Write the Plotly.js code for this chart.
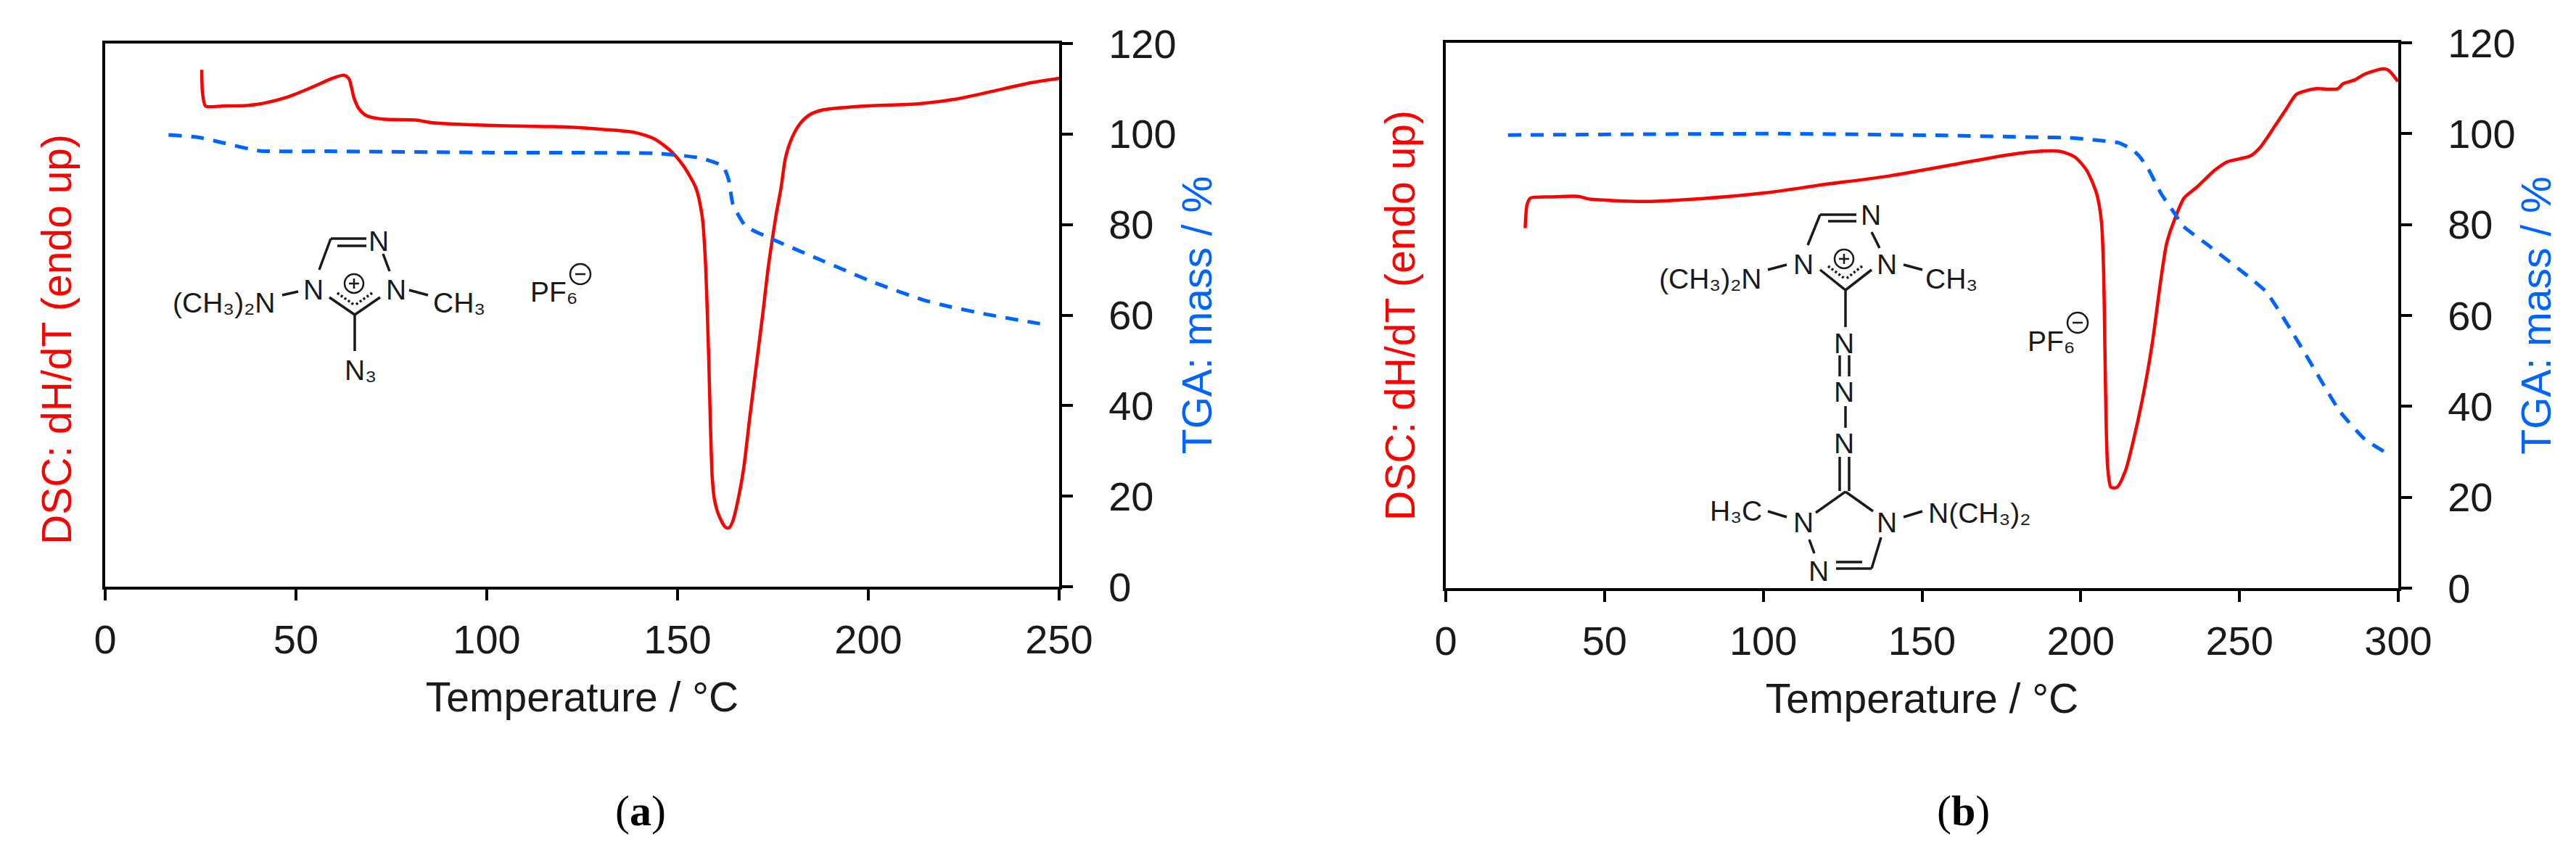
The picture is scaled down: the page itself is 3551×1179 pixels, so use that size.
<!DOCTYPE html>
<html><head><meta charset="utf-8">
<script src="https://cdn.plot.ly/plotly-3.0.1.min.js"></script>
<style>html,body{margin:0;padding:0;background:#fff}#c{width:3551px;height:1179px}</style>
</head><body><div id="c"></div>
<script>
const dscA_T = [25.3,25.5,26.3,30.7,37.1,41.5,47.9,54.4,59.8,62.6,63.9,65.2,66.5,68.4,72.8,81.4,85.7,101.9,119.2,127.8,138.6,144,148.3,151.6,154.8,156.5,157.2,157.6,158.2,158.6,159.1,159.7,161,162.6,163.5,164.4,165.7,167.3,168.9,170.8,172.4,173.6,174.7,175.9,177.1,178.3,180,182.2,184.7,187.9,197.4,213.3,222.8,232.3,241.8,250];
const dscA_V = [114.2,109.2,106.2,106.2,106.3,106.8,108.2,110.4,112.4,113,112.2,108,105.6,104.1,103.3,103.1,102.5,101.9,101.6,101.2,100.4,98.9,96.2,92.9,88.1,81.5,73.5,65.5,49.5,36.2,23.9,19.1,15.4,13.1,13,14.3,18.6,26,37.2,50,60.7,69.5,76,82.5,88,94.8,99.2,102.4,104.3,105.3,106.1,106.7,107.7,109.4,111.2,112.3];
const tgaA_T = [16.6,24.2,30.7,40.4,58.7,101.9,145.1,155.9,161.9,163.4,164.5,167.8,174.2,188.3,201.2,214.2,220.6,231.4,245];
const tgaA_V = [99.8,99.3,98.1,96.3,96.2,95.9,95.7,94.7,92.9,89.9,84.5,79.7,77,71.9,67.3,63.4,62,60.1,58.1];
const dscB_T = [25,25.6,26.6,33.8,41.6,45.4,62.2,80.3,100.9,119,139.7,161.5,176.8,184.4,193.5,198.1,201.9,205,206.5,207.2,207.6,208,208.5,209.5,211.4,214.1,216.4,219.4,222.5,225.1,227,229,232.5,236.5,242.1,246.1,253.4,256.5,260.5,264.5,267.8,270.2,274.2,277.4,281,282.6,286.2,289.4,295.4,297,298.6,299.9];
const dscB_V = [79.2,84.4,85.8,86.1,86.2,85.6,85.1,85.7,87,88.8,90.7,93.4,95.3,96,96.1,94.9,91.9,86.8,80.7,69.6,52.7,35.9,26.4,22.2,22.2,25.9,32,41.5,53.8,67.3,75.7,80.1,85.8,88.2,91.9,93.8,95.1,97,101,105.2,108.6,109.3,109.9,109.8,109.9,111,111.8,113.1,114.3,113.9,112.7,111.5];
const tgaB_T = [19.6,106,157.7,187.2,196.4,204.4,212,216.4,218.4,221.3,225.3,230.1,232,240.8,252.2,258.4,266.2,273.9,281.7,289.4,295.9];
const tgaB_V = [99.7,100,99.6,99.2,99.1,98.6,98,96.4,95.1,92.2,86.8,81.9,79.8,75.1,68.9,65.2,56.8,47.8,38.8,32.8,29.9];
const tempTitle = 'Temperature / °C';
const dscTitle = 'DSC: dH/dT (endo up)';
const tgaTitle = 'TGA: mass / %';

const W = 3551, H = 1179;
const RED = '#ff0000', BLUE = '#0064ff', INK = '#1a1a1a';
const FONT = '"Liberation Sans", Arial, sans-serif';
const fx = p => p / W, fy = p => 1 - p / H;

const bonds = [
 [456,329,505,329],[465,339,505,339],[456,329,440,372],[528,350,537,374],
 [454,410,489,434],[524,410,489,434],[489,434,489,484],[389,407,411,402],[564,400,590,407],
 [2509,296,2559,296],[2520,305,2559,305],[2509,296,2492,338],[2580,320,2591,342],
 [2509,372,2544,400],[2580,372,2544,400],[2544,400,2544,451],[2437,372,2463,365],[2624,365,2650,372],
 [2536,490,2536,519],[2549,490,2549,519],[2544,560,2544,590],[2536,630,2536,677],[2549,630,2549,677],
 [2544,678,2503,707],[2544,678,2582,705],[2437,705,2463,713],[2624,713,2650,705],[2494,744,2501,763],
 [2593,741,2580,784],[2531,784,2580,784],[2531,775,2567,775]
];
const dashedBonds = [
 [465,404,489,421],[513,404,489,421],[2520,367,2544,385],[2567,367,2544,385]
];
const charges = [
 [488,391,13,'+'],[800,378,14,'-'],[2542,357,13,'+'],[2864,445,14,'-']
];
const atoms = [
 ['N',522,332],['N',432,399],['N',546,399],['(CH₃)₂N',309,417],['CH₃',633,417],['N₃',497,510],['PF₆',764,402],
 ['N',2579,297],['N',2486,364],['N',2601,364],['(CH₃)₂N',2358,384],['CH₃',2690,384],
 ['N',2542,474],['N',2542,541],['N',2542,611],['N',2486,720],['N',2601,720],
 ['H₃C',2393,704],['N(CH₃)₂',2729,707],['N',2507,787],['PF₆',2828,470]
];

const shapes = [];
const line = (a,b,c,d,w,dash) => shapes.push({type:'line',xref:'paper',yref:'paper',x0:fx(a),y0:fy(b),x1:fx(c),y1:fy(d),line:{color:INK,width:w,dash:dash||'solid'}});
bonds.forEach(b => line(b[0],b[1],b[2],b[3],3.5));
dashedBonds.forEach(b => line(b[0],b[1],b[2],b[3],3.5,'3px,3px'));
charges.forEach(c => {
  shapes.push({type:'circle',xref:'paper',yref:'paper',x0:fx(c[0]-c[2]),x1:fx(c[0]+c[2]),y0:fy(c[1]-c[2]),y1:fy(c[1]+c[2]),line:{color:INK,width:2.5}});
  line(c[0]-7,c[1],c[0]+7,c[1],2.5);
  if(c[3]==='+') line(c[0],c[1]-7,c[0],c[1]+7,2.5);
});

const annotations = atoms.map(a => ({text:a[0],xref:'paper',yref:'paper',x:fx(a[1]),y:fy(a[2]),xanchor:'center',yanchor:'middle',showarrow:false,font:{family:FONT,size:39,color:INK}}));
[['(<b>a</b>)',883],['(<b>b</b>)',2706]].forEach(l => annotations.push({text:l[0],xref:'paper',yref:'paper',x:fx(l[1]),y:fy(1118),xanchor:'center',yanchor:'middle',showarrow:false,font:{family:'"Liberation Serif", serif',size:60,color:'#000'}}));
annotations.push({text:dscTitle,textangle:-90,xref:'paper',yref:'paper',x:fx(78),y:fy(468),xanchor:'center',yanchor:'middle',showarrow:false,font:{family:FONT,size:57,color:RED}});

const xax = (l,r,rng,anchor) => ({domain:[fx(l),fx(r)],range:rng,dtick:50,tick0:0,anchor:anchor,ticks:'outside',ticklen:15,tickwidth:4,tickcolor:'#000',showline:true,linecolor:'#000',linewidth:4,mirror:true,showgrid:false,zeroline:false,tickfont:{family:FONT,size:56,color:INK},ticklabelstandoff:6,title:{text:tempTitle,font:{family:FONT,size:57,color:INK},standoff:30}});
const ylAx = (t,b,anchor,title) => ({domain:[fy(b),fy(t)],range:[0,120],anchor:anchor,showticklabels:false,ticks:'',showline:true,linecolor:'#000',linewidth:4,showgrid:false,zeroline:false,title:{text:title,font:{family:FONT,size:57,color:RED},standoff:21}});
const yrAx = (over,anchor) => ({overlaying:over,side:'right',anchor:anchor,range:[0,120],dtick:20,ticks:'outside',ticklen:15,tickwidth:4,tickcolor:'#000',showline:true,linecolor:'#000',linewidth:4,showgrid:false,zeroline:false,tickfont:{family:FONT,size:56,color:INK},ticklabelstandoff:38,title:{text:tgaTitle,font:{family:FONT,size:57,color:BLUE},standoff:10}});

const solid = (x,y,ax,ay) => ({type:'scatter',mode:'lines',x:x,y:y,xaxis:ax,yaxis:ay,line:{color:RED,width:4.5,shape:'spline',smoothing:0.7},name:'DSC'});
const dashed = (x,y,ax,ay) => ({type:'scatter',mode:'lines',x:x,y:y,xaxis:ax,yaxis:ay,line:{color:BLUE,width:5,dash:'18px,13px',shape:'spline',smoothing:0.5},name:'TGA'});

const data = [
 solid(dscA_T,dscA_V,'x','y'),
 dashed(tgaA_T,tgaA_V,'x','y2'),
 solid(dscB_T,dscB_V,'x2','y3'),
 dashed(tgaB_T,tgaB_V,'x2','y4')
];
const layout = {
 width:W,height:H,margin:{l:0,r:0,t:0,b:0},paper_bgcolor:'#fff',plot_bgcolor:'#fff',showlegend:false,
 xaxis:xax(145,1460,[0,250],'y'),
 yaxis:ylAx(60,809,'x',''),
 yaxis2:yrAx('y','x'),
 xaxis2:xax(1993,3306,[0,300],'y3'),
 yaxis3:ylAx(59,811,'x2',dscTitle),
 yaxis4:yrAx('y3','x2'),
 shapes:shapes,annotations:annotations
};
Plotly.newPlot('c',data,layout,{displayModeBar:false,staticPlot:true});
</script></body></html>
